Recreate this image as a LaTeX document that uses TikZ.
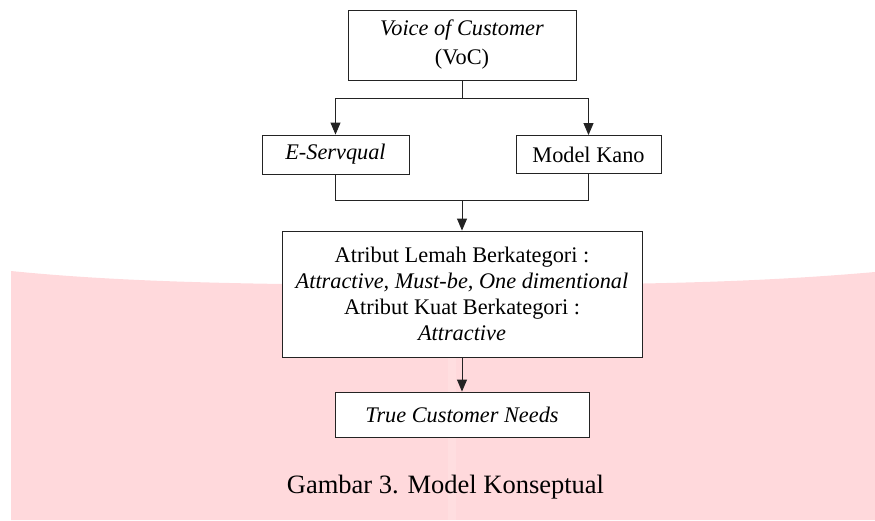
\documentclass[tikz,border=0pt]{standalone}
\usepackage{fontspec}
\setmainfont{Liberation Serif}
\usetikzlibrary{arrows.meta}
\definecolor{wmpink}{RGB}{255,217,220}
\definecolor{wmpinklight}{RGB}{255,222,224}
\definecolor{lnc}{RGB}{35,35,35}
\begin{document}
\begin{tikzpicture}[x=1pt,y=-1pt,
  box/.style={draw=lnc,line width=0.9pt,fill=white,inner sep=0pt,align=center,
    font=\fontsize{22.3}{26}\selectfont},
  conn/.style={draw=lnc,line width=0.9pt},
  arr/.style={conn,-{Triangle[length=12pt,width=10pt]}}]
\useasboundingbox (0,0) rectangle (875,520);
% watermark background
\fill[wmpink] (11,271) .. controls (120,282) and (250,285) .. (450,285)
  .. controls (650,285) and (760,282) .. (875,272) -- (875,520) -- (11,520) -- cycle;
\fill[wmpinklight] (448,285) rectangle (456,520);
% nodes
\node[box,minimum width=228pt,minimum height=70pt,font=\fontsize{22.3}{29}\selectfont] (voc) at (462,45)
  {\textit{Voice of Customer}\\(VoC)};
\node[box,minimum width=147pt,minimum height=39pt] (es) at (335.5,154.5)
  {\textit{E-Servqual}};
\node[box,minimum width=145pt,minimum height=38pt] (kano) at (588.5,154.5)
  {Model Kano};
\node[box,minimum width=360pt,minimum height=126pt] (atr) at (462,294)
  {Atribut Lemah Berkategori :\\
   \textit{Attractive, Must-be, One dimentional}\\
   Atribut Kuat Berkategori :\\
   \textit{Attractive}};
\node[box,minimum width=254pt,minimum height=45pt] (tcn) at (462,414.5)
  {\textit{True Customer Needs}};
\node[font=\fontsize{26.5}{30}\selectfont,anchor=base,inner sep=0pt] (cap) at (445.5,493)
  {Gambar 3. Model Konseptual};
% connectors
\coordinate (split) at (462,98);
\coordinate (join) at (462,200);
\draw[conn] (voc.south) -- (split);
\draw[arr] (split) -| (es.north);
\draw[arr] (split) -| (kano.north);
\draw[conn] (es.south) |- (join);
\draw[conn] (kano.south) |- (join);
\draw[arr] (join) -- (atr.north);
\draw[arr] (atr.south) -- (tcn.north);
\end{tikzpicture}
\end{document}
